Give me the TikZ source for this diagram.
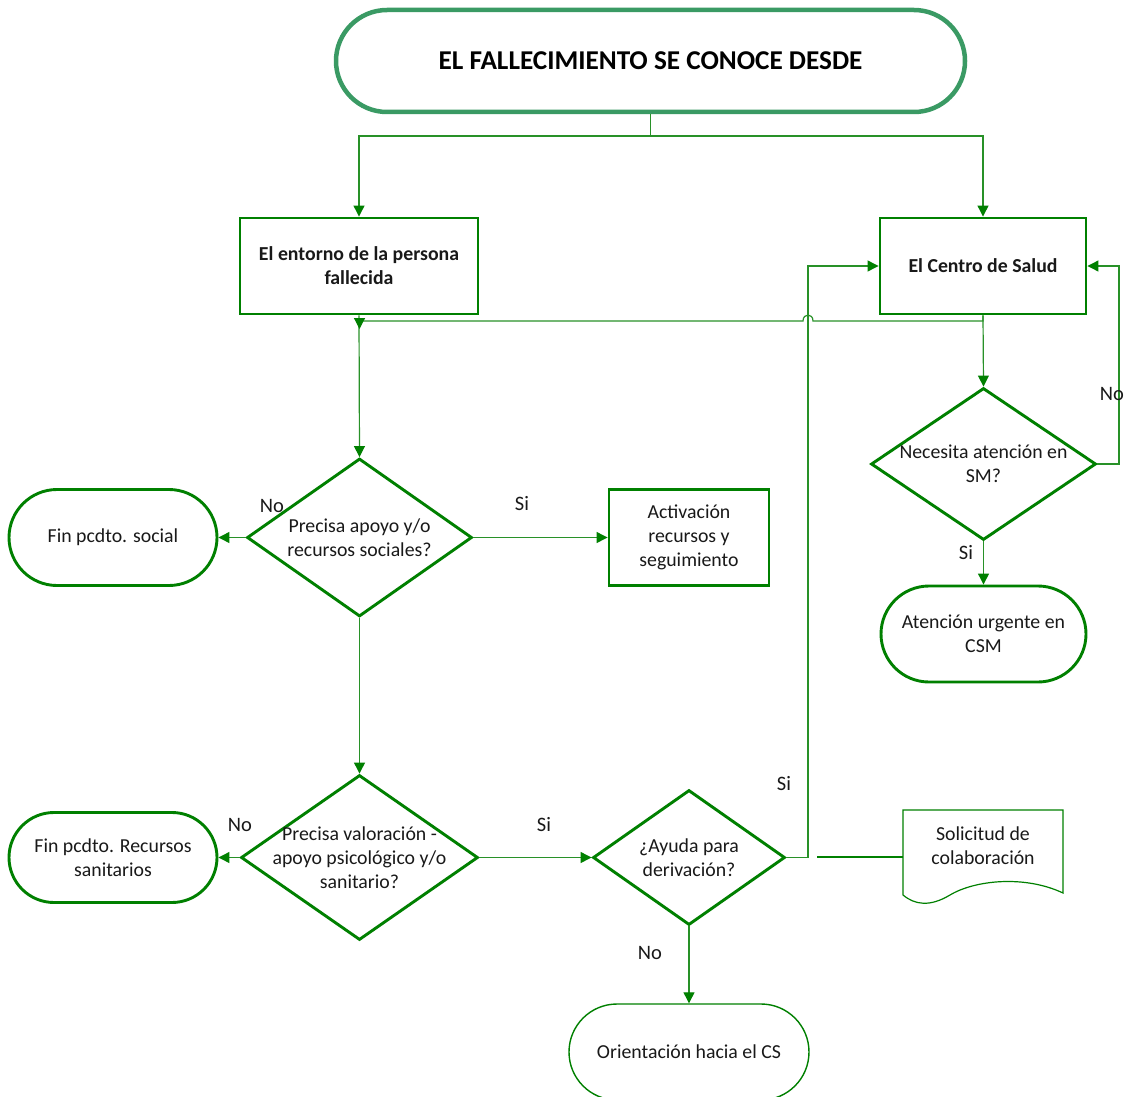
\documentclass[tikz,border=0pt]{standalone}
\usepackage{fontspec}
\setmainfont{Carlito}
\usetikzlibrary{arrows.meta,shapes.geometric}
\definecolor{bx}{RGB}{0,128,0}
\definecolor{topc}{RGB}{58,154,100}
\definecolor{cn}{RGB}{40,145,40}
\begin{document}
\begin{tikzpicture}[x=1pt,y=-1pt,
  txt/.style={font=\fontsize{19.8}{24}\selectfont, align=center, text=black!90},
  btxt/.style={font=\fontsize{19.8}{24}\selectfont\bfseries, align=center, text=black!90},
  boxn/.style={draw=bx, line width=2.9pt, rectangle, inner sep=0pt},
  term/.style={draw=bx, line width=2.9pt, rectangle, rounded corners=48pt, inner sep=0pt},
  dia/.style={draw=bx, line width=2.9pt, diamond, inner sep=0pt},
  conn/.style={draw=cn, line width=1.2pt},
  arr/.style={-{Triangle[length=11pt,width=11pt,fill=bx,color=bx]}},
  lbl/.style={font=\fontsize{20.5}{24}\selectfont, text=black!90, inner sep=0pt}]
\clip (0,0) rectangle (1132,1097);
\fill[white] (0,0) rectangle (1132,1097);
% nodes
\node[draw=topc, line width=4.5pt, rectangle, rounded corners=51pt, minimum width=629pt, minimum height=102pt, inner sep=0pt,
  font=\fontsize{27.2}{30}\selectfont\bfseries, text=black] (top) at (650.5,61) {EL FALLECIMIENTO SE CONOCE DESDE};
\node[boxn, minimum width=238pt, minimum height=96pt, btxt] (ent) at (359,266) {El entorno de la persona\\fallecida};
\node[boxn, minimum width=206pt, minimum height=96pt, btxt] (cs) at (983,266) {El Centro de Salud};
\node[dia, minimum width=225pt, minimum height=152pt] (d3) at (983.5,464) {};
\node[txt] (d3t) at (d3) {Necesita atención en\\SM?};
\node[term, minimum width=205pt, minimum height=96pt, txt] (csm) at (983.5,634) {Atención urgente en\\CSM};
\node[dia, minimum width=225pt, minimum height=158pt] (d1) at (359.5,537.5) {};
\node[txt] (d1t) at (d1) {Precisa apoyo y/o\\recursos sociales?};
\node[term, minimum width=208pt, minimum height=96pt, txt] (fin1) at (113,537.5) {Fin pcdto. social};
\node[boxn, minimum width=160pt, minimum height=96pt, txt] (act) at (689,537.5) {Activación\\recursos y\\seguimiento};
\node[dia, minimum width=237pt, minimum height=165pt] (d2) at (359.5,857.5) {};
\node[txt] (d2t) at (d2) {Precisa valoración -\\apoyo psicológico y/o\\sanitario?};
\node[term, minimum width=208pt, minimum height=90pt, rounded corners=45pt, txt] (fin2) at (113,857.5) {Fin pcdto. Recursos\\sanitarios};
\node[dia, minimum width=192pt, minimum height=135pt] (d4) at (689,857.5) {};
\node[txt] (d4t) at (d4) {¿Ayuda para\\derivación?};
\node[term, line width=1.4pt, minimum width=240pt, minimum height=96pt, txt] (ori) at (689,1052) {Orientación hacia el CS};
% document shape
\node[rectangle, minimum width=160pt, minimum height=88pt, inner sep=0pt] (doc) at (983,853) {};
\draw[bx, line width=1.2pt] (903,895) -- (903,810) -- (1063,810) -- (1063,893)
  .. controls (1025,875) and (975,880) .. (950,895) .. controls (930,907) and (915,905) .. (903,895);
\node[txt] (doct) at (983,846) {Solicitud de\\colaboración};
% connectors
\draw[conn,arr] (top.south) -- (650.5,136) -| (ent.north);
\draw[conn,arr] (top.south) -- (650.5,136) -| (cs.north);
\draw[conn,arr] (ent.south) -- (d1.north);
\draw[conn,arr] (cs.south) -- (983,321) -- (813,321) .. controls (813,313) and (803,313) .. (803,321) -- (359.5,321) -- (359.5,329);
\draw[conn,arr] (cs.south) -- (d3.north);
\draw[conn,arr] (d3.east) -- (1119,464) |- (cs.east);
\draw[conn,arr] (d3.south) -- (csm.north);
\draw[conn,arr] (d1.west) -- (fin1.east);
\draw[conn,arr] (d1.east) -- (act.west);
\draw[conn,arr] (d1.south) -- (d2.north);
\draw[conn,arr] (d2.west) -- (fin2.east);
\draw[conn,arr] (d2.east) -- (d4.west);
\draw[conn,arr] (d4.east) -- (808,857.5) |- (cs.west);
\draw[conn,arr] (d4.south) -- (ori.north);
\coordinate (t1) at (817,857);
\draw[bx, line width=2.8pt] (t1) -- (doc.west |- t1);
% labels
\node[lbl] (l1) at (1112,394) {No};
\node[lbl] (l2) at (966,553) {Si};
\node[lbl] (l3) at (272,506) {No};
\node[lbl] (l4) at (522,504) {Si};
\node[lbl] (l5) at (240,825) {No};
\node[lbl] (l6) at (544,825) {Si};
\node[lbl] (l7) at (784,784) {Si};
\node[lbl] (l8) at (650,953) {No};
\end{tikzpicture}
\end{document}
